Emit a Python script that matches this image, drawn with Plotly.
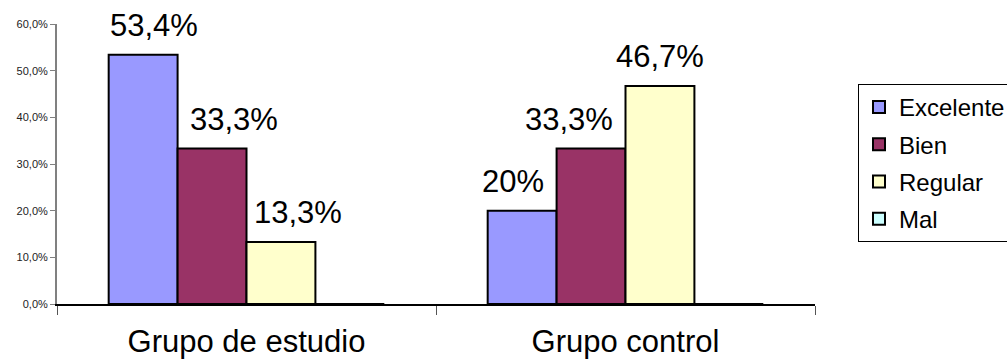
import plotly.graph_objects as go

# Datos
grupos = ["Grupo de estudio", "Grupo control"]
series = ["Excelente", "Bien", "Regular", "Mal"]
excelente = [0.534, 0.20]
bien = [0.333, 0.333]
regular = [0.133, 0.467]
mal = [0.0, 0.0]
etiquetas_excelente = ["53,4%", "20%"]
etiquetas_bien = ["33,3%", "33,3%"]
etiquetas_regular = ["13,3%", "46,7%"]

valores = [excelente, bien, regular, mal]
etiquetas = [etiquetas_excelente, etiquetas_bien, etiquetas_regular, None]
colores = ["#9999FF", "#993366", "#FFFFCC", "#CCFFFF"]

FONT = "Liberation Sans, Arial, sans-serif"

fig = go.Figure()
for i, (nombre, vals, col) in enumerate(zip(series, valores, colores)):
    fig.add_trace(go.Bar(
        name=nombre, x=grupos, y=vals,
        marker=dict(color=col, line=dict(color="#000000", width=2)),
        legendgroup=nombre,
        hoverinfo="skip",
    ))

# Etiquetas de datos colocadas sobre cada barra
ancho_barra = 758 / 2 / 5.5
ajustes = [[11, -9], [22, -22], [17, 0]]
for i, labs in enumerate(etiquetas):
    if labs is None:
        continue
    for j, g in enumerate(grupos):
        fig.add_annotation(
            x=g, y=valores[i][j], text=labs[j], showarrow=False,
            xanchor="center", yanchor="bottom",
            xshift=(i - 1.5) * ancho_barra + ajustes[i][j], yshift=10,
            font=dict(family=FONT, size=31, color="#000000"),
        )

fig.update_layout(
    width=1007, height=360,
    margin=dict(l=57, r=192, t=24, b=56, autoexpand=False),
    paper_bgcolor="#ffffff", plot_bgcolor="#ffffff",
    separators=",.",
    barmode="group", bargap=1.5 / 5.5, bargroupgap=0,
    showlegend=True,
    legend=dict(
        x=(858 - 57) / 758, y=(304 - 84) / 280, xanchor="left", yanchor="top",
        bordercolor="#000000", borderwidth=1, bgcolor="#ffffff",
        font=dict(family=FONT, size=24, color="#000000"),
        tracegroupgap=3, traceorder="grouped",
    ),
    xaxis=dict(
        showline=True, linecolor="#000000", linewidth=1.5,
        ticks="outside", tickson="boundaries", ticklen=9, tickcolor="#555555", tickwidth=1,
        ticklabelstandoff=9,
        tickfont=dict(family=FONT, size=31, color="#000000"),
        showgrid=False, zeroline=False,
    ),
    yaxis=dict(
        range=[0, 0.6], dtick=0.1, tickformat=".1%",
        showline=True, linecolor="#808080", linewidth=2,
        ticks="outside", ticklen=5, tickcolor="#808080", tickwidth=1,
        tickfont=dict(family=FONT, size=11, color="#222222"),
        showgrid=False, zeroline=False,
    ),
)

fig.write_html("out.html")
